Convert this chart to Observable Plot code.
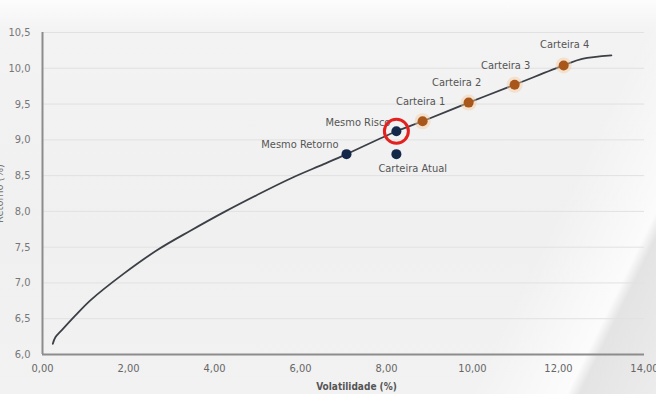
<!DOCTYPE html>
<html>
<head>
<meta charset="utf-8">
<script src="https://cdn.jsdelivr.net/npm/d3@7"></script>
<script src="https://cdn.jsdelivr.net/npm/@observablehq/plot@0.6"></script>
<style>
  html, body { margin: 0; padding: 0; }
  body {
    width: 656px; height: 394px; overflow: hidden;
    background:
      linear-gradient(116deg, rgba(255,255,255,0) 0%, rgba(255,255,255,0) 78%, rgba(255,255,255,0.75) 89.5%, rgba(222,222,222,0.7) 91%, rgba(232,232,232,0.6) 100%),
      linear-gradient(180deg, #fcfcfc 0%, #f3f3f3 8%, #f0f0f0 60%, #f2f2f2 100%);
    font-family: "Liberation Sans Narrow", "DejaVu Sans Condensed", "Liberation Sans", sans-serif;
  }
  #chart svg { background: transparent; overflow: visible; }
</style>
</head>
<body>
<div id="chart"></div>
<script>
// Efficient frontier curve (volatility %, return %)
const frontierVol = [0.24, 0.30, 0.45, 0.75, 1.12, 1.89, 2.67, 3.44, 4.22, 4.99, 5.77, 6.54, 7.07, 8.23, 8.84, 9.91, 10.98, 12.12, 12.55, 13.23];
const frontierRet = [6.15, 6.24, 6.34, 6.535, 6.76, 7.13, 7.46, 7.73, 7.99, 8.23, 8.46, 8.66, 8.80, 9.12, 9.26, 9.52, 9.77, 10.04, 10.13, 10.18];

// Highlighted portfolios
const navyNames = ["Mesmo Retorno", "Mesmo Risco", "Carteira Atual"];
const navyVol   = [7.07, 8.23, 8.23];
const navyRet   = [8.80, 9.12, 8.80];

const orangeNames = ["Carteira 1", "Carteira 2", "Carteira 3", "Carteira 4"];
const orangeVol   = [8.84, 9.91, 10.98, 12.12];
const orangeRet   = [9.26, 9.52, 9.77, 10.04];

const xTicks = [0, 2, 4, 6, 8, 10, 12, 14];
const yTicks = [6.0, 6.5, 7.0, 7.5, 8.0, 8.5, 9.0, 9.5, 10.0, 10.5];

const xLabel = "Volatilidade (%)";
const yLabel = "Retorno (%)";

// Build tables
const frontier = frontierVol.map((v, i) => ({vol: v, ret: frontierRet[i]}));
const navy = navyNames.map((n, i) => ({name: n, vol: navyVol[i], ret: navyRet[i]}));
const orange = orangeNames.map((n, i) => ({name: n, vol: orangeVol[i], ret: orangeRet[i]}));

// label placement (layout only)
const labelLayout = {
  "Mesmo Retorno": {anchor: "end", dx: -8, dy: -10},
  "Mesmo Risco": {anchor: "end", dx: -6, dy: -9},
  "Carteira Atual": {anchor: "start", dx: -18, dy: 14},
  "Carteira 1": {anchor: "middle", dx: -2, dy: -20},
  "Carteira 2": {anchor: "middle", dx: -12, dy: -20},
  "Carteira 3": {anchor: "middle", dx: -9, dy: -19},
  "Carteira 4": {anchor: "middle", dx: 1, dy: -21}
};
const allLabels = [...navy, ...orange];
const comma = (f) => (d) => f(d).replace(".", ",");

const font = '"Liberation Sans Narrow", "DejaVu Sans Condensed", "Liberation Sans", sans-serif';

const labelMarks = allLabels.map(d => Plot.text([d], {
  x: "vol", y: "ret", text: "name",
  textAnchor: labelLayout[d.name].anchor,
  dx: labelLayout[d.name].dx, dy: labelLayout[d.name].dy,
  fill: "#555", fontSize: 11
}));

const chart = Plot.plot({
  width: 656,
  height: 394,
  marginLeft: 42,
  marginRight: 12,
  marginTop: 32,
  marginBottom: 40,
  style: {fontFamily: font, fontSize: "11px", color: "#666", background: "transparent"},
  x: {domain: [0, 14]},
  y: {domain: [6, 10.5]},
  marks: [
    Plot.gridY(yTicks, {stroke: "#e1e1e1", strokeOpacity: 1, strokeWidth: 1}),
    Plot.axisX(xTicks, {tickSize: 0, tickPadding: 10, tickFormat: comma(d3.format(".2f")), fill: "#666", label: null}),
    Plot.axisY(yTicks, {tickSize: 0, tickPadding: 12, tickFormat: comma(d3.format(".1f")), fill: "#777",
      label: yLabel, labelAnchor: "center", labelOffset: 47, labelArrow: "none"}),
    Plot.ruleX([0], {y1: 6, y2: 10.5, stroke: "#8c8c8c", strokeWidth: 2}),
    Plot.ruleY([6], {x1: 0, x2: 14, stroke: "#8c8c8c", strokeWidth: 2}),
    Plot.line(frontier, {x: "vol", y: "ret", stroke: "#3b3f46", strokeWidth: 1.8, curve: "catmull-rom"}),
    Plot.dot(orange, {x: "vol", y: "ret", r: 8, fill: "#f5c9a0", fillOpacity: 0.45}),
    Plot.dot(orange, {x: "vol", y: "ret", r: 5, fill: "#a9561b"}),
    Plot.dot(navy, {x: "vol", y: "ret", r: 5, fill: "#16284a"}),
    ...labelMarks,
    Plot.dot(navy.filter(d => d.name === "Mesmo Risco"), {x: "vol", y: "ret", r: 12, stroke: "#e3211f", strokeWidth: 3, fill: "none"}),
    Plot.text([xLabel], {frameAnchor: "bottom", dx: 13, dy: 35, fill: "#555", fontSize: 10, fontWeight: "bold"})
  ]
});
document.getElementById("chart").appendChild(chart);
</script>
</body>
</html>
